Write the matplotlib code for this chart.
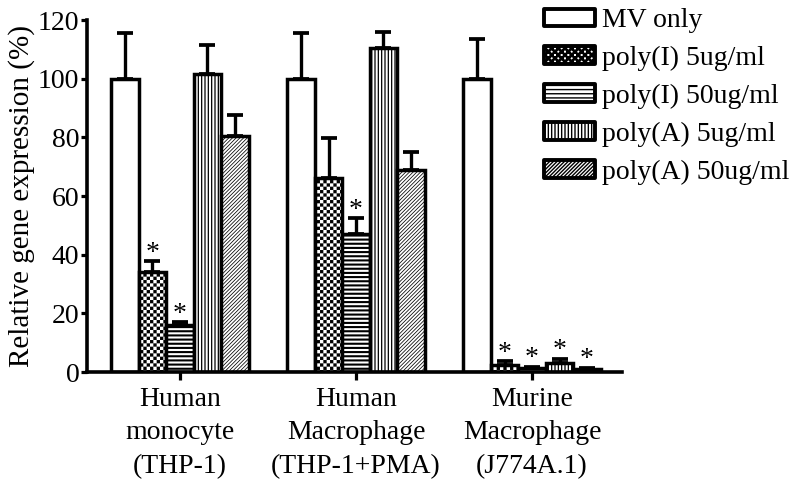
import warnings
import numpy as np
import matplotlib
matplotlib.use("Agg")
import matplotlib.pyplot as plt
import matplotlib.hatch as mhatch
from matplotlib.path import Path
from matplotlib.patches import Rectangle

warnings.filterwarnings("ignore")

# ---------------- data ----------------
categories = ["Human\nmonocyte\n(THP-1)",
              "Human\nMacrophage\n(THP-1+PMA)",
              "Murine\nMacrophage\n(J774A.1)"]
series = ["MV only", "poly(I) 5ug/ml", "poly(I) 50ug/ml",
          "poly(A) 5ug/ml", "poly(A) 50ug/ml"]

mv_only = [100, 100, 100]
mv_only_err = [15.5, 15.7, 13.6]
polyI_5 = [34, 66, 2.5]
polyI_5_err = [3.7, 13.8, 1.2]
polyI_50 = [16, 47, 1.2]
polyI_50_err = [1.0, 5.5, 0.6]
polyA_5 = [101.5, 110.5, 3.0]
polyA_5_err = [10.0, 5.5, 1.5]
polyA_50 = [80.5, 69, 1.0]
polyA_50_err = [7.0, 6.0, 0.5]

mv_only_sig = [False, False, False]
polyI_5_sig = [True, False, True]
polyI_50_sig = [True, True, True]
polyA_5_sig = [False, False, True]
polyA_50_sig = [False, False, True]

yticks = [0, 20, 40, 60, 80, 100, 120]
ylabel = "Relative gene expression (%)"

# ---------------- checkerboard hatch ----------------
HAS_HLW = hasattr(Rectangle, "set_hatch_linewidth")
GLOBAL_HLW = 1.0
CHECK_LW = 0.05 if HAS_HLW else GLOBAL_HLW


class CheckerHatch(mhatch.HatchPatternBase):
    def __init__(self, hatch, density):
        self.n = int(hatch.count("k") * density)
        if self.n % 2:
            self.n += 1
        self.num_vertices = (self.n * self.n // 2) * 5 if self.n else 0

    def set_vertices_and_codes(self, vertices, codes):
        n = self.n
        c = 1.0 / n
        s = (CHECK_LW / 72.0) / 2.0
        idx = 0
        for i in range(n):
            for j in range(n):
                if (i + j) % 2 == 0:
                    x0, y0 = i * c + s, j * c + s
                    x1, y1 = (i + 1) * c - s, (j + 1) * c - s
                    vertices[idx:idx + 5] = [(x0, y0), (x1, y0), (x1, y1),
                                             (x0, y1), (x0, y0)]
                    codes[idx] = Path.MOVETO
                    codes[idx + 1:idx + 4] = Path.LINETO
                    codes[idx + 4] = Path.CLOSEPOLY
                    idx += 5


mhatch._hatch_types.append(CheckerHatch)

plt.rcParams["font.family"] = "serif"
plt.rcParams["font.serif"] = ["Liberation Serif", "DejaVu Serif"]
plt.rcParams["hatch.linewidth"] = GLOBAL_HLW

FS = 20

fig = plt.figure(figsize=(8, 4.84), dpi=100)
ax = fig.add_axes([87 / 800, 1 - 372 / 484, (622 - 87) / 800, (372 - 20) / 484])

x = np.arange(len(categories))
width = 0.156

data = [
    (series[0], mv_only, mv_only_err, None, mv_only_sig, None),
    (series[1], polyI_5, polyI_5_err, "kkkkk", polyI_5_sig, CHECK_LW),
    (series[2], polyI_50, polyI_50_err, "----", polyI_50_sig, 1.5),
    (series[3], polyA_5, polyA_5_err, "|||||", polyA_5_sig, 0.9),
    (series[4], polyA_50, polyA_50_err, "/" * 9, polyA_50_sig, 0.55),
]

for k, (name, vals, errs, hatch, sig, hlw) in enumerate(data):
    pos = x + (k - 2) * width
    bars = ax.bar(pos, vals, width, color="white", edgecolor="black",
                  linewidth=2.5, hatch=hatch, label=name, zorder=2)
    if HAS_HLW and hlw is not None:
        for b in bars:
            b.set_hatch_linewidth(hlw)
    ax.errorbar(pos, vals, yerr=[np.zeros(len(vals)), errs], fmt="none",
                ecolor="black", elinewidth=2.4, capsize=6, capthick=2.7,
                zorder=1)
    for p, v, e, s in zip(pos, vals, errs, sig):
        if s:
            ax.text(p, v + e + 0.5, "*", ha="center", va="baseline",
                    fontsize=FS, zorder=3)

ax.set_xlim(-0.528, 2.511)
ax.set_ylim(0, 120)
ax.set_yticks(yticks)
ax.set_xticks(x)
ax.set_xticklabels(categories, fontsize=FS, linespacing=1.45)
ax.tick_params(axis="y", labelsize=FS, direction="out", length=4.5, width=2.3, pad=1)
ax.tick_params(axis="x", direction="out", length=5.5, width=2.3, pad=5)
ax.set_ylabel(ylabel, fontsize=21, labelpad=2)

for sp in ["top", "right"]:
    ax.spines[sp].set_visible(False)
for sp in ["left", "bottom"]:
    ax.spines[sp].set_linewidth(2.6)

leg = ax.legend(loc="upper left", bbox_to_anchor=(544 / 800, 1 - 8 / 484),
                bbox_transform=fig.transFigure, frameon=False, fontsize=FS,
                handlelength=1.83, handleheight=0.58, handletextpad=0.25,
                labelspacing=0.46, borderpad=0, borderaxespad=0)
for h in leg.legend_handles:
    h.set_joinstyle("round")
    h.set_linewidth(2.8)

fig.savefig("out.png", dpi=100)
